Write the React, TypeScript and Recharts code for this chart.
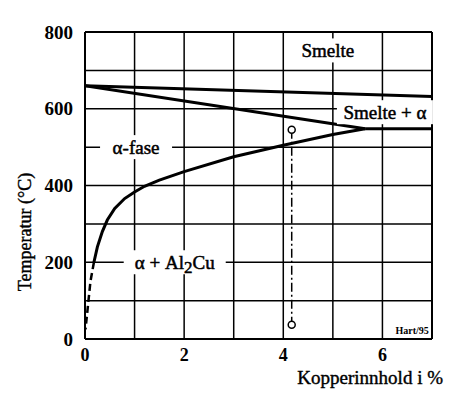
import { LineChart, Line, XAxis, YAxis, ReferenceLine, ReferenceDot, Label } from "recharts";

const FONT = "'Liberation Serif', 'Times New Roman', serif";

// grid and ticks
const gridX = [1, 2, 3, 4, 5, 6];
const gridY = [100, 200, 300, 400, 500, 600, 700];
const xTicks = [0, 2, 4, 6];
const yTicks = [0, 200, 400, 600, 800];

// phase boundaries (x = % Cu, t = °C)
const liquidus = [{ x: 0, t: 660 }, { x: 7, t: 632 }];
const solidus = [{ x: 0, t: 660 }, { x: 5.65, t: 548 }];
const eutectic = [{ x: 5.65, t: 548 }, { x: 7, t: 548 }];
const solvus = [
  { x: 5.65, t: 548 }, { x: 5, t: 533 }, { x: 4, t: 505 }, { x: 3, t: 475 },
  { x: 2, t: 436 }, { x: 1.5, t: 414 }, { x: 1.2, t: 398 }, { x: 1, t: 383 },
  { x: 0.8, t: 366 }, { x: 0.6, t: 340 }, { x: 0.45, t: 310 }, { x: 0.35, t: 280 },
  { x: 0.25, t: 240 }, { x: 0.18, t: 200 },
];
const solvusLow = [
  { x: 0.18, t: 200 }, { x: 0.11, t: 150 }, { x: 0.07, t: 100 }, { x: 0.03, t: 50 }, { x: 0.01, t: 25 },
];
const alloy = [{ x: 4.17, t: 545 }, { x: 4.17, t: 37 }];

// area labels
const labels = [
  { x: 4.9, t: 752, text: "Smelte", w: 62 },
  { x: 6.05, t: 591, text: "Smelte + α", w: 96 },
  { x: 1.03, t: 500, text: "α-fase", w: 72 },
  { x: 1.81, t: 200, text: "α + Al₂Cu", w: 102 },
];

const AreaLabel = ({ cx, cy, text, w }: any) => {
  const sub = text.indexOf("₂");
  return (
    <g>
      <rect x={cx - w / 2} y={cy - 12} width={w} height={24} fill="#fff" />
      <text x={cx} y={cy} textAnchor="middle" dominantBaseline="central"
        fontFamily={FONT} fontSize={19} fill="#000" stroke="#000" strokeWidth={0.5}>
        {sub < 0 ? text : (
          <>
            {text.slice(0, sub)}
            <tspan dy={5} fontSize={17}>2</tspan>
            <tspan dy={-5}>{text.slice(sub + 1)}</tspan>
          </>
        )}
      </text>
    </g>
  );
};

export default function App() {
  const lineProps = { type: "linear" as const, dataKey: "t", stroke: "#000", dot: false, isAnimationActive: false };
  return (
    <div style={{ position: "absolute", left: 0, top: 0, background: "#fff" }}>
      <LineChart width={469} height={394} margin={{ top: 32, right: 37, bottom: 0, left: 0 }}>
        <XAxis type="number" dataKey="x" domain={[0, 7]} ticks={xTicks} allowDataOverflow
          axisLine={{ stroke: "#000", strokeWidth: 2 }} tickLine={false} tickMargin={3} height={55}
          tick={{ fontFamily: FONT, fontSize: 18, fontWeight: "bold", fill: "#000" }}>
          <Label content={({ viewBox }: any) => (
            <text x={viewBox.x + viewBox.width + 11} y={viewBox.y + 45} textAnchor="end"
              fontFamily={FONT} fontSize={19} fill="#000" stroke="#000" strokeWidth={0.4}>
              Kopperinnhold i %
            </text>
          )} />
        </XAxis>
        <YAxis type="number" domain={[0, 800]} ticks={yTicks} allowDataOverflow width={85}
          axisLine={{ stroke: "#000", strokeWidth: 2 }} tickLine={false} tickMargin={6}
          tick={{ fontFamily: FONT, fontSize: 19, fontWeight: "bold", fill: "#000" }}>
          <Label content={({ viewBox }: any) => (
            <text x={25} y={viewBox.y + 200} textAnchor="middle" dominantBaseline="central"
              transform={`rotate(-90 25 ${viewBox.y + 200})`}
              fontFamily={FONT} fontSize={18} fill="#000" stroke="#000" strokeWidth={0.4}>
              Temperatur (°C)
            </text>
          )} />
        </YAxis>

        {gridX.map((v) => (
          <ReferenceLine key={`gx${v}`} x={v} stroke="#000" strokeWidth={1.5} />
        ))}
        {gridY.map((v) => (
          <ReferenceLine key={`gy${v}`} y={v} stroke="#000" strokeWidth={1.5} />
        ))}
        <ReferenceLine x={7} stroke="#000" strokeWidth={2} />
        <ReferenceLine y={800} stroke="#000" strokeWidth={2} />

        {labels.map((l) => (
          <ReferenceDot key={l.text} x={l.x} y={l.t} r={0}
            shape={(p: any) => <AreaLabel cx={p.cx} cy={p.cy} text={l.text} w={l.w} />} />
        ))}
        <ReferenceDot x={6.6} y={23} r={0}
          shape={(p: any) => (
            <text x={p.cx} y={p.cy} textAnchor="middle" dominantBaseline="central"
              fontFamily={FONT} fontSize={10} fontWeight="bold" fill="#000">Hart/95</text>
          )} />

        <Line {...lineProps} data={liquidus} strokeWidth={3} />
        <Line {...lineProps} data={solidus} strokeWidth={3} />
        <Line {...lineProps} data={eutectic} strokeWidth={3} />
        <Line {...lineProps} data={solvus} strokeWidth={3} />
        <Line {...lineProps} data={solvusLow} strokeWidth={2.5} strokeDasharray="7 4" />
        <Line {...lineProps} data={alloy} strokeWidth={1.5} strokeDasharray="9 3 2 3"
          dot={{ r: 3.5, fill: "#fff", stroke: "#000", strokeWidth: 1.5, strokeDasharray: "none" }} />
      </LineChart>
    </div>
  );
}
